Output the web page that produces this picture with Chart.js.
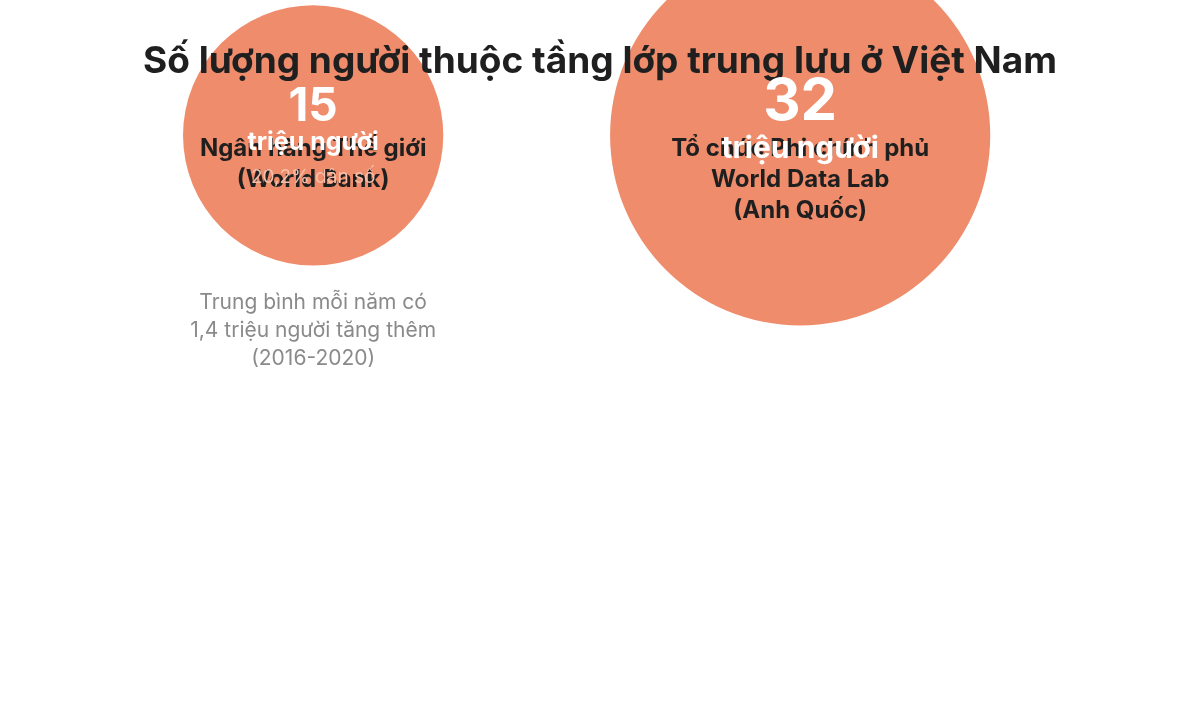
<!DOCTYPE html>
<html>
<head>
<meta charset="utf-8">
<script src="https://cdn.jsdelivr.net/npm/chart.js@4"></script>
<style>
  html, body { margin: 0; padding: 0; background: #fff; }
  #wrap { width: 1200px; height: 705px; }
</style>
</head>
<body>
<div id="wrap"><canvas id="c"></canvas></div>
<script>
// du lieu
const sources = [['Ngân hàng Thế giới', '(World Bank)'], ['Tổ chức Phi chính phủ', 'World Data Lab', '(Anh Quốc)']];
const values = [15, 32];
const shares = ['20,2% dân số', ''];
const note = ['Trung bình mỗi năm có', '1,4 triệu người tăng thêm', '(2016-2020)'];

const ORANGE = '#EE8C6B';
const FONT = 'Inter, "Noto Sans", sans-serif';

const labelsPlugin = {
  id: 'labels',
  afterDatasetsDraw(chart) {
    const ctx = chart.ctx;
    const meta = chart.getDatasetMeta(0);
    ctx.save();
    ctx.textAlign = 'center';
    ctx.textBaseline = 'middle';
    ctx.fillStyle = '#1f1f1f';
    ctx.font = 'bold 37px ' + FONT;
    ctx.fillText('Số lượng người thuộc tầng lớp trung lưu ở Việt Nam', 600, 62);
    meta.data.forEach((el, i) => {
      const r = el.options.radius;
      ctx.fillStyle = '#1f1f1f';
      ctx.font = 'bold 24px ' + FONT;
      sources[i].forEach((s, j) => ctx.fillText(s, el.x, 149 + j * 31));
      ctx.fillStyle = '#fff';
      if (shares[i]) {
        ctx.font = 'bold 46px ' + FONT;
        ctx.fillText(values[i], el.x, el.y - 28);
        ctx.font = 'bold 25px ' + FONT;
        ctx.fillText('triệu người', el.x, el.y + 7);
        ctx.fillStyle = '#F7BFA9';
        ctx.font = '19px ' + FONT;
        ctx.fillText(shares[i], el.x, el.y + 42);
      } else {
        ctx.font = 'bold 58px ' + FONT;
        ctx.fillText(values[i], el.x, el.y - 33);
        ctx.font = 'bold 30px ' + FONT;
        ctx.fillText('triệu người', el.x, el.y + 14);
      }
      if (i === 0) {
        ctx.fillStyle = '#8a8a8a';
        ctx.font = '21px ' + FONT;
        note.forEach((s, j) => ctx.fillText(s, el.x, el.y + r + 37 + j * 28));
      }
    });
    ctx.restore();
  }
};

new Chart(document.getElementById('c'), {
  type: 'bubble',
  data: {
    datasets: [{
      data: values.map((v, i) => ({ x: i, y: 0, v: v })),
      backgroundColor: ORANGE,
      borderWidth: 0,
      hoverBackgroundColor: ORANGE,
      clip: false,
      radius: c => 33.6 * Math.sqrt(values[c.dataIndex])
    }]
  },
  options: {
    responsive: true,
    maintainAspectRatio: false,
    animation: false,
    layout: { padding: 0, autoPadding: false },
    scales: {
      x: { display: false, min: -0.643, max: 1.821 },
      y: { display: false, min: -1.616, max: 0.384 }
    },
    plugins: { legend: { display: false }, tooltip: { enabled: false } }
  },
  plugins: [labelsPlugin]
});
</script>
</body>
</html>
